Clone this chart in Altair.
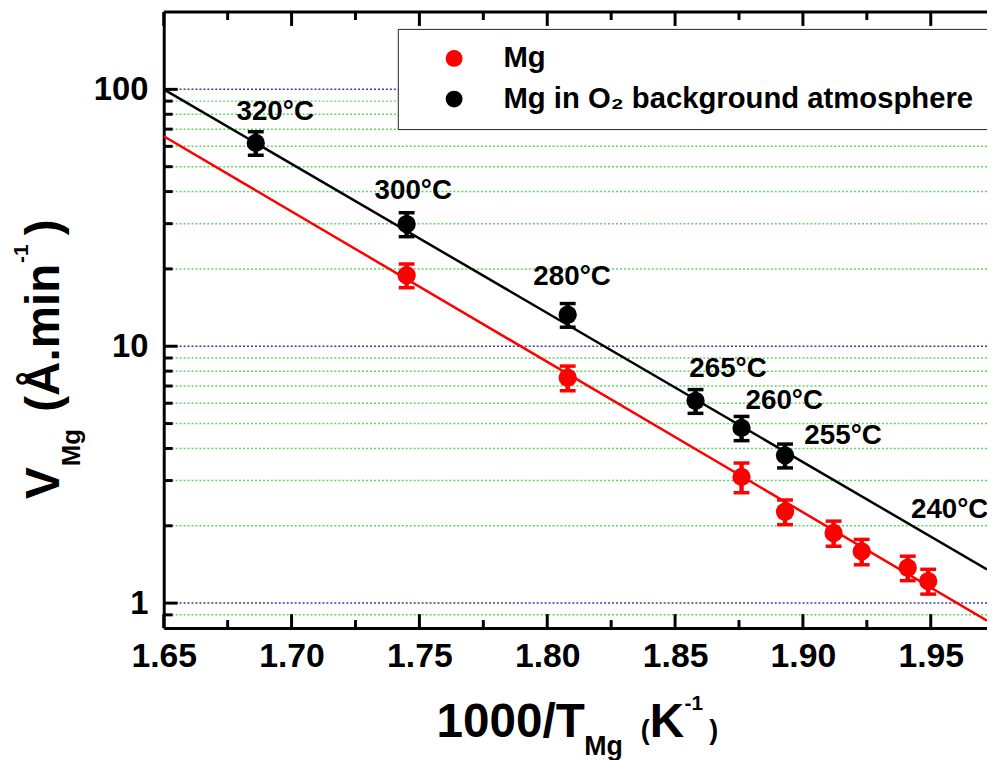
import altair as alt
import pandas as pd

# ---------------- data ----------------
MG = "Mg"
MGO2 = "Mg in O\u2082 background atmosphere"

black_x = [1.686, 1.745, 1.808, 1.858, 1.876, 1.893]
black_v = [61.9, 29.9, 13.26, 6.13, 4.81, 3.76]
black_err = [6.5, 3.2, 1.4, 0.65, 0.52, 0.40]

red_x = [1.745, 1.808, 1.876, 1.893, 1.912, 1.923, 1.941, 1.949]
red_v = [18.9, 7.54, 3.10, 2.27, 1.875, 1.59, 1.373, 1.219]
red_err = [2.0, 0.83, 0.41, 0.25, 0.21, 0.18, 0.15, 0.135]

fit_x = [1.65, 1.972]
black_fit = [100.0, 1.353]
red_fit = [65.7, 0.855]

label_text = ["320°C", "300°C", "280°C", "265°C", "260°C", "255°C", "240°C"]
label_x = [1.6936, 1.7476, 1.8097, 1.8707, 1.8927, 1.9157, 1.9574]
label_y = [81.5, 40.3, 18.6, 8.13, 6.13, 4.49, 2.31]

x_major = [1.65, 1.70, 1.75, 1.80, 1.85, 1.90, 1.95]
x_minor = [1.675, 1.725, 1.775, 1.825, 1.875, 1.925]
y_major = [1, 10, 100]
y_minor = [0.9, 2, 3, 4, 5, 6, 7, 8, 9, 20, 30, 40, 50, 60, 70, 80, 90]

# ---------------- tables ----------------
pts = pd.DataFrame({
    "series": [MG] * len(red_x) + [MGO2] * len(black_x),
    "x": red_x + black_x,
    "v": red_v + black_v,
    "err": red_err + black_err,
})
pts["lo"] = pts["v"] - pts["err"]
pts["hi"] = pts["v"] + pts["err"]

fits = pd.DataFrame({
    "series": [MG] * 2 + [MGO2] * 2,
    "x": fit_x + fit_x,
    "v": red_fit + black_fit,
})
labels = pd.DataFrame({"t": label_text, "x": label_x, "v": label_y})

W, H = 830, 621
FONT = "Liberation Sans"
xscale = alt.Scale(domain=[1.65, 1.972], nice=False, zero=False)
yscale = alt.Scale(type="log", domain=[0.8, 200], nice=False)
cdom = [MG, MGO2]
crng = ["#ff0000", "#000000"]
series_color = {MG: "#ff0000", MGO2: "#000000"}

xaxis = alt.Axis(values=x_major, format=".2f", ticks=False, tickSize=0, grid=False,
                 title=None, labelFontSize=34, labelFont=FONT, labelFontWeight="bold",
                 labelColor="black", labelPadding=12, domainColor="black",
                 domainWidth=3, labelOverlap=False, labelFlush=False, labelBound=False)
yaxis = alt.Axis(values=y_major, format=".0f", ticks=False, tickSize=0, grid=False,
                 title=None, labelFontSize=33, labelFont=FONT, labelFontWeight="bold",
                 labelColor="black", labelPadding=16, domainColor="black",
                 domainWidth=3, labelOverlap=False, labelFlush=False, labelBound=False)


def X(f):
    return alt.X(f, type="quantitative", scale=xscale, axis=xaxis)


def Y(f):
    return alt.Y(f, type="quantitative", scale=yscale, axis=yaxis)


grid_minor = alt.Chart(pd.DataFrame({"v": y_minor})).mark_rule(
    color="#5fd35f", strokeDash=[2, 2], strokeWidth=1.5
).encode(y=Y("v"))
grid_major = alt.Chart(pd.DataFrame({"v": y_major})).mark_rule(
    color="#3a3aa8", strokeDash=[2, 2], strokeWidth=1.5
).encode(y=Y("v"))

series_layers = []
for s in cdom:
    col = series_color[s]
    f_s = alt.datum.series == s
    series_layers.append(
        alt.Chart(fits).transform_filter(f_s).mark_line(clip=True, strokeWidth=2.5, color=col)
        .encode(x=X("x"), y=Y("v"))
    )
    series_layers.append(
        alt.Chart(pts).transform_filter(f_s).mark_rule(strokeWidth=4.5, color=col)
        .encode(x=X("x"), y=Y("lo"), y2="hi")
    )
    for fld in ["lo", "hi"]:
        series_layers.append(
            alt.Chart(pts).transform_filter(f_s)
            .mark_rule(strokeWidth=3.5, xOffset=-8, x2Offset=8, color=col)
            .encode(x=X("x"), x2="x", y=Y(fld))
        )

points = alt.Chart(pts).mark_circle(size=340, opacity=1).encode(
    x=X("x"), y=Y("v"),
    color=alt.Color("series:N", scale=alt.Scale(domain=cdom, range=crng),
                    legend=alt.Legend(orient="none", legendX=236, legendY=17, title=None,
                                      padding=15, strokeColor="#222222", fillColor="white",
                                      symbolType="circle", symbolSize=290, symbolOffset=27,
                                      labelOffset=35, labelFontSize=29.5, labelFont=FONT,
                                      labelFontWeight="bold", labelColor="black",
                                      rowPadding=10, labelLimit=800, symbolStrokeWidth=0)),
)

temp_labels = alt.Chart(labels).mark_text(
    font=FONT, fontSize=28, fontWeight="bold", color="black", align="center", baseline="middle"
).encode(x=X("x"), y=Y("v"), text="t:N")

# ---------------- inward ticks and top frame ----------------
tick_ly_maj = alt.Chart(pd.DataFrame({"v": y_major})).mark_rule(color="black", strokeWidth=3).encode(
    y=Y("v"), x=alt.value(0), x2=alt.value(14))
tick_ly_min = alt.Chart(pd.DataFrame({"v": y_minor})).mark_rule(color="black", strokeWidth=3).encode(
    y=Y("v"), x=alt.value(0), x2=alt.value(9))
tick_bx_maj = alt.Chart(pd.DataFrame({"x": x_major})).mark_rule(color="black", strokeWidth=3).encode(
    x=X("x"), y=alt.value(H), y2=alt.value(H - 14))
tick_bx_min = alt.Chart(pd.DataFrame({"x": x_minor})).mark_rule(color="black", strokeWidth=3).encode(
    x=X("x"), y=alt.value(H), y2=alt.value(H - 8))
tick_tx_maj = alt.Chart(pd.DataFrame({"x": x_major})).mark_rule(color="black", strokeWidth=3).encode(
    x=X("x"), y=alt.value(0), y2=alt.value(14))
tick_tx_min = alt.Chart(pd.DataFrame({"x": x_minor})).mark_rule(color="black", strokeWidth=3).encode(
    x=X("x"), y=alt.value(0), y2=alt.value(8))
top_frame = alt.Chart(pd.DataFrame({"a": [0]})).mark_rule(color="black", strokeWidth=3).encode(
    x=alt.value(0), x2=alt.value(W), y=alt.value(0))


def txt(s, x, y, size, angle=0):
    return alt.Chart(pd.DataFrame({"a": [0]})).mark_text(
        text=s, font=FONT, fontSize=size, fontWeight="bold", color="black",
        align="left", baseline="alphabetic", angle=angle
    ).encode(x=alt.value(x), y=alt.value(y))


titles = [
    # y title (rotated)
    txt("V", -106, 491, 48, 270),
    txt("Mg", -84, 458, 26, 270),
    txt("(Å.min", -106, 403, 48, 270),
    txt("-1", -137, 253, 21, 270),
    txt(")", -106, 225, 48, 270),
    # x title
    txt("1000/T", 275, 731, 48),
    txt("Mg", 424, 749, 27),
    txt("(", 481, 733, 27),
    txt("K", 490, 731, 48),
    txt("-1", 525, 704, 21),
    txt(")", 550, 733, 27),
]

chart = alt.layer(
    grid_minor, grid_major, *series_layers, points, temp_labels,
    tick_ly_maj, tick_ly_min, tick_bx_maj, tick_bx_min, tick_tx_maj, tick_tx_min, top_frame,
    *titles
).properties(
    width=W, height=H,
    autosize=alt.AutoSizeParams(type="none"),
    padding={"left": 157, "top": 1, "right": 0, "bottom": 130},
).configure_view(stroke=None)

chart.save("out.html", embed_options={"renderer": "svg", "actions": False})
